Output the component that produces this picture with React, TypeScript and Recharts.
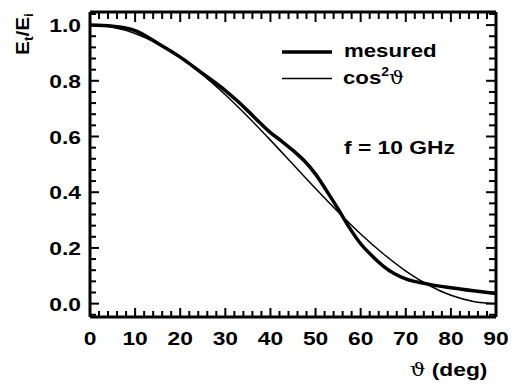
import React from 'react';
import { LineChart, Line, XAxis, YAxis, Customized } from 'recharts';

// ---- data ----
const measuredAngles = [0, 5, 10, 15, 20, 25, 30, 32.5, 35, 37.5, 40, 42.5, 45, 47.5, 50, 52.5, 55, 57.5, 60, 62.5, 65, 67.5, 70, 75, 80, 85, 90];
const measuredValues = [1.0, 0.996, 0.98, 0.935, 0.885, 0.826, 0.765, 0.73, 0.692, 0.652, 0.614, 0.583, 0.55, 0.513, 0.465, 0.404, 0.34, 0.273, 0.215, 0.172, 0.135, 0.107, 0.089, 0.07, 0.057, 0.046, 0.036];

const cosAngles = [0, 5, 10, 15, 20, 25, 30, 35, 40, 45, 50, 55, 60, 65, 70, 75, 80, 85, 90];
const cosValues = [1.0, 0.992, 0.97, 0.933, 0.883, 0.821, 0.75, 0.671, 0.587, 0.5, 0.413, 0.329, 0.25, 0.179, 0.117, 0.067, 0.03, 0.008, 0.0];

const xMajorTicks = [0, 10, 20, 30, 40, 50, 60, 70, 80, 90];
const yMajorTicks = [0, 0.2, 0.4, 0.6, 0.8, 1.0];
const yTickLabels = ['0.0', '0.2', '0.4', '0.6', '0.8', '1.0'];

const xAllTicks: number[] = [];
for (let i = 0; i <= 45; i++) xAllTicks.push(i * 2);
const yAllTicks: number[] = [];
for (let i = -1; i <= 26; i++) yAllTicks.push(Math.round(i * 4) / 100);

const measuredData = measuredAngles.map((a, i) => ({ angle: a, v: measuredValues[i] }));
const cosData = cosAngles.map((a, i) => ({ angle: a, v: cosValues[i] }));

const FONT = '"Liberation Sans", Arial, Helvetica, sans-serif';
const SX = 1.2;
const MAJ = 9;
const MIN = 6;

const isXMajor = (v: number) => xMajorTicks.some((t) => Math.abs(t - v) < 1e-6);
const yMajorIndex = (v: number) => yMajorTicks.findIndex((t) => Math.abs(t - v) < 1e-6);

const ST = ({ x, y, size, anchor = 'start', children, rotate = 0, sx = SX }: any) => (
  <g transform={`translate(${x},${y}) rotate(${rotate}) scale(${sx},1)`}>
    <text x={0} y={0} fontFamily={FONT} fontWeight="bold" fontSize={size} textAnchor={anchor} fill="#000">
      {children}
    </text>
  </g>
);

const XBottomTick = (p: any) => {
  const { x, y, payload } = p;
  const v = payload.value;
  const major = isXMajor(v);
  return (
    <g>
      <line x1={x} x2={x} y1={y} y2={y - (major ? MAJ : MIN)} stroke="#000" strokeWidth={2} />
      {major && <ST x={x} y={y + 28} size={19} anchor="middle">{String(v)}</ST>}
    </g>
  );
};

const XTopTick = (p: any) => {
  const { x, y, payload } = p;
  const major = isXMajor(payload.value);
  const yy = y + 1;
  return <line x1={x} x2={x} y1={yy} y2={yy + (major ? MAJ : MIN)} stroke="#000" strokeWidth={2} />;
};

const YLeftTick = (p: any) => {
  const { x, y, payload } = p;
  const idx = yMajorIndex(payload.value);
  const major = idx >= 0;
  return (
    <g>
      <line x1={x} x2={x + (major ? MAJ : MIN)} y1={y} y2={y} stroke="#000" strokeWidth={2} />
      {major && <ST x={x - 9} y={y + 7} size={19} anchor="end">{yTickLabels[idx]}</ST>}
    </g>
  );
};

const YRightTick = (p: any) => {
  const { x, y, payload } = p;
  const major = yMajorIndex(payload.value) >= 0;
  const xx = x - 1;
  return <line x1={xx} x2={xx - (major ? MAJ : MIN)} y1={y} y2={y} stroke="#000" strokeWidth={2} />;
};

const Annotations = () => (
  <g>
    {/* legend */}
    <line x1={282} x2={332} y1={52} y2={52} stroke="#000" strokeWidth={3.5} />
    <ST x={344} y={56.5} size={19} sx={1.17}>mesured</ST>
    <line x1={282} x2={332} y1={78.5} y2={78.5} stroke="#000" strokeWidth={1.5} />
    <g transform={`translate(343,83.5) scale(1.17,1)`}>
      <text x={0} y={0} fontFamily={FONT} fontWeight="bold" fontSize={19} fill="#000">
        cos
        <tspan fontSize={12} dy={-8}>2</tspan>
        <tspan dy={8} fontFamily='"DejaVu Serif", "Liberation Serif", serif' fontWeight="normal" fontSize={18}>ϑ</tspan>
      </text>
    </g>
    <ST x={344} y={153.5} size={19} sx={1.2}>f = 10 GHz</ST>
    {/* x axis title */}
    <g transform={`translate(410,376) scale(1.2,1)`}>
      <text x={0} y={0} fontFamily={FONT} fontWeight="bold" fontSize={19} fill="#000">
        <tspan fontFamily='"DejaVu Serif", "Liberation Serif", serif' fontWeight="normal" fontSize={18}>ϑ</tspan>
        {' (deg)'}
      </text>
    </g>
    {/* y axis title */}
    <g transform={`translate(29,34) rotate(-90) scale(1.15,1)`}>
      <text x={0} y={0} fontFamily={FONT} fontWeight="bold" fontSize={18} textAnchor="middle" fill="#000">
        E<tspan fontSize={12} dy={4}>t</tspan><tspan dy={-4}>/E</tspan><tspan fontSize={12} dy={4}>i</tspan>
      </text>
    </g>
  </g>
);

export default function App() {
  return (
    <div style={{ position: 'absolute', left: 0, top: 0, background: '#fff' }}>
      <LineChart width={515} height={387} margin={{ top: 11, right: 18, bottom: 0, left: 0 }}>
        <XAxis
          xAxisId="b"
          dataKey="angle"
          type="number"
          domain={[0, 90]}
          allowDataOverflow
          ticks={xAllTicks}
          interval={0}
          orientation="bottom"
          height={70}
          tickSize={0}
          tickMargin={0}
          tickLine={false}
          axisLine={{ stroke: '#000', strokeWidth: 3 }}
          tick={<XBottomTick />}
        />
        <XAxis
          xAxisId="t"
          dataKey="angle"
          type="number"
          domain={[0, 90]}
          allowDataOverflow
          ticks={xAllTicks}
          interval={0}
          orientation="top"
          height={1}
          tickSize={0}
          tickMargin={0}
          tickLine={false}
          axisLine={{ stroke: '#000', strokeWidth: 3 }}
          tick={<XTopTick />}
        />
        <YAxis
          yAxisId="l"
          type="number"
          domain={[-0.048, 1.047]}
          allowDataOverflow
          ticks={yAllTicks}
          interval={0}
          orientation="left"
          width={90}
          tickSize={0}
          tickMargin={0}
          tickLine={false}
          axisLine={{ stroke: '#000', strokeWidth: 3 }}
          tick={<YLeftTick />}
        />
        <YAxis
          yAxisId="r"
          type="number"
          domain={[-0.048, 1.047]}
          allowDataOverflow
          ticks={yAllTicks}
          interval={0}
          orientation="right"
          width={1}
          tickSize={0}
          tickMargin={0}
          tickLine={false}
          axisLine={{ stroke: '#000', strokeWidth: 3 }}
          tick={<YRightTick />}
        />
        <Line
          xAxisId="t"
          yAxisId="r"
          data={cosData}
          dataKey="v"
          stroke="none"
          strokeWidth={0}
          dot={false}
          legendType="none"
          isAnimationActive={false}
        />
        <Line
          xAxisId="b"
          yAxisId="l"
          data={cosData}
          dataKey="v"
          type="monotone"
          stroke="#000"
          strokeWidth={1.5}
          dot={false}
          isAnimationActive={false}
        />
        <Line
          xAxisId="b"
          yAxisId="l"
          data={measuredData}
          dataKey="v"
          type="monotone"
          stroke="#000"
          strokeWidth={3.5}
          dot={false}
          isAnimationActive={false}
        />
        <Customized component={Annotations} />
      </LineChart>
    </div>
  );
}
